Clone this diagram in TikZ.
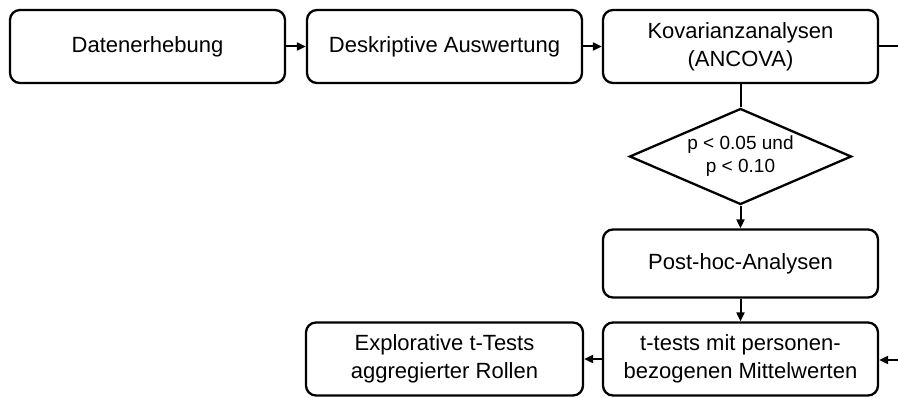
\documentclass[tikz,border=0pt]{standalone}
\usepackage{fontspec}
\setmainfont{Liberation Sans}
\usetikzlibrary{shapes.geometric,arrows.meta}
\begin{document}
\begin{tikzpicture}[x=1pt,y=-1pt,
  stepbox/.style={draw=black,line width=2.3pt,rounded corners=10pt,
    minimum width=275pt,minimum height=73pt,inner sep=0pt,align=center,
    font=\fontsize{22}{28}\selectfont},
  decision/.style={draw=black,line width=2.3pt,shape=diamond,aspect=2.3,
    minimum width=222pt,minimum height=96pt,inner sep=0pt,align=center,
    font=\fontsize{19}{23}\selectfont},
  flow/.style={line width=2pt,-{Triangle[length=9pt,width=8pt]}},
  plain/.style={line width=2pt}]
\useasboundingbox (0,0) rectangle (898,398);
\fill[white] (0,0) rectangle (898,398);

\node[stepbox] (erhebung) at (147.5,46.5) {Datenerhebung};
\node[stepbox] (deskriptiv) at (444.5,46.5) {Deskriptive Auswertung};
\node[stepbox] (ancova) at (740.5,46.5) {Kovarianzanalysen\\(ANCOVA)};
\node[decision] (signif) at (740.5,156.5) {p < 0.05 und\\p < 0.10};
\node[stepbox,minimum height=68pt] (posthoc) at (740.5,263.5) {Post-hoc-Analysen};
\node[stepbox] (ttests) at (740.5,359) {t-tests mit personen-\\bezogenen Mittelwerten};
\node[stepbox,minimum width=277pt] (explor) at (444.5,359) {Explorative t-Tests\\aggregierter Rollen};

\coordinate (outA) at (898,46.5);
\coordinate (inB) at (898,360);

\draw[flow] (erhebung) -- (deskriptiv);
\draw[flow] (deskriptiv) -- (ancova);
\draw[plain] (ancova.east) -- (outA);
\draw[plain] (ancova) -- (signif);
\draw[flow] (signif) -- (posthoc);
\draw[flow] (posthoc) -- (ttests);
\draw[flow] (inB) -- (ttests.east |- inB);
\draw[flow] (ttests) -- (explor);
\end{tikzpicture}
\end{document}
